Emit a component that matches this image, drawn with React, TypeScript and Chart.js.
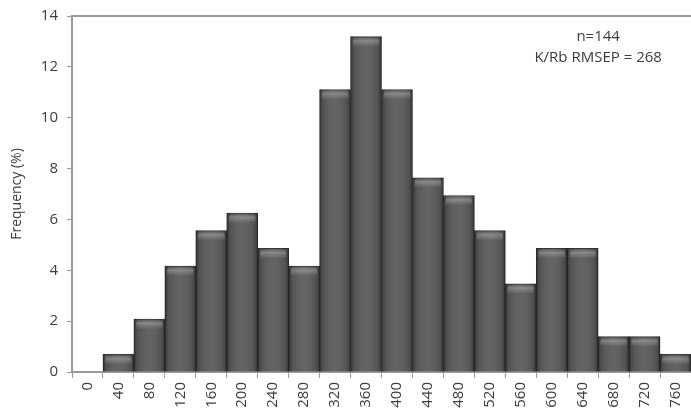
import React, { useEffect, useRef } from "react";
import { Chart, registerables } from "chart.js";

Chart.register(...registerables);

const categories = ["0", "40", "80", "120", "160", "200", "240", "280", "320", "360", "400", "440", "480", "520", "560", "600", "640", "680", "720", "760"];
const frequency = [0, 0.69, 2.08, 4.17, 5.56, 6.25, 4.86, 4.17, 11.11, 13.19, 11.11, 7.64, 6.94, 5.56, 3.47, 4.86, 4.86, 1.39, 1.39, 0.69];
const annotationLines = ["n=144", "K/Rb RMSEP = 268"];
const yMin = 0;
const yMax = 14;
const yStep = 2;

const FONT = "'Open Sans', 'Liberation Sans', sans-serif";
const TEXT = "#3c3c3c";
const AXIS = "#9a9a9a";

const shadePlugin = {
  id: "shade",
  afterDatasetsDraw(chart: any) {
    const ctx = chart.ctx;
    const meta = chart.getDatasetMeta(0);
    meta.data.forEach((bar: any, i: number) => {
      if (!frequency[i]) return;
      const { x, y, base, width } = bar.getProps(["x", "y", "base", "width"], true);
      const left = x - width / 2;
      const right = x + width / 2;
      ctx.save();
      const g = ctx.createLinearGradient(left, 0, right, 0);
      g.addColorStop(0, "rgba(0,0,0,0.4)");
      g.addColorStop(0.12, "rgba(0,0,0,0.1)");
      g.addColorStop(0.5, "rgba(255,255,255,0.05)");
      g.addColorStop(0.88, "rgba(0,0,0,0.1)");
      g.addColorStop(1, "rgba(0,0,0,0.4)");
      ctx.fillStyle = g;
      ctx.fillRect(left, y, width, base - y);
      const capH = Math.min(10, (base - y) * 0.6);
      const g2 = ctx.createLinearGradient(0, y + 1, 0, y + capH);
      g2.addColorStop(0, "rgba(255,255,255,0.0)");
      g2.addColorStop(0.35, "rgba(255,255,255,0.25)");
      g2.addColorStop(1, "rgba(255,255,255,0)");
      ctx.fillStyle = g2;
      ctx.beginPath();
      const inset = 4;
      ctx.moveTo(left + inset, y + 1);
      ctx.lineTo(right - inset, y + 1);
      ctx.quadraticCurveTo(right - 2, y + 1, right - 2, y + capH);
      ctx.lineTo(left + 2, y + capH);
      ctx.quadraticCurveTo(left + 2, y + 1, left + inset, y + 1);
      ctx.fill();
      ctx.restore();
    });
  },
  afterDraw(chart: any) {
    const ctx = chart.ctx;
    const { left, right, top } = chart.chartArea;
    ctx.save();
    ctx.strokeStyle = AXIS;
    ctx.lineWidth = 2;
    ctx.beginPath();
    ctx.moveTo(left, top);
    ctx.lineTo(right, top);
    ctx.stroke();
    ctx.fillStyle = TEXT;
    ctx.font = `15px ${FONT}`;
    ctx.textAlign = "center";
    ctx.textBaseline = "middle";
    const cx = chart.scales.x.getPixelForValue(16.5);
    annotationLines.forEach((t, k) => {
      ctx.fillText(t, cx, 37 + k * 21);
    });
    ctx.restore();
  },
};

export default function App() {
  const ref = useRef<HTMLCanvasElement>(null);
  useEffect(() => {
    if (!ref.current) return;
    const chart = new Chart(ref.current, {
      type: "bar",
      data: {
        labels: categories,
        datasets: [
          {
            data: frequency,
            backgroundColor: "#5c5c5c",
            borderColor: "#353535",
            borderWidth: 1,
            barPercentage: 1,
            categoryPercentage: 1,
          },
        ],
      },
      options: {
        animation: false,
        responsive: false,
        maintainAspectRatio: false,
        layout: { padding: { left: 8, top: 16, right: 0, bottom: 0 } },
        plugins: { legend: { display: false }, tooltip: { enabled: false } },
        scales: {
          x: {
            offset: true,
            grid: { display: true, drawOnChartArea: false, drawTicks: true, tickLength: 6, color: AXIS, offset: true },
            border: { color: AXIS, width: 2 },
            ticks: { minRotation: 90, maxRotation: 90, autoSkip: false, color: TEXT, font: { family: FONT, size: 15 }, padding: 4 },
            afterFit: (s: any) => { s.height = 41; s.paddingRight = 0; s.paddingLeft = 0; },
          },
          y: {
            min: yMin,
            max: yMax,
            grid: { display: true, drawOnChartArea: false, drawTicks: true, tickLength: 5, color: AXIS },
            border: { color: AXIS, width: 2 },
            ticks: { stepSize: yStep, color: TEXT, font: { family: FONT, size: 15 }, padding: 9 },
            title: { display: true, text: "Frequency (%)", color: TEXT, font: { family: FONT, size: 14 }, padding: 1 },
            afterFit: (s: any) => { s.width = 64; s.paddingTop = 0; s.paddingBottom = 0; },
          },
        },
      },
      plugins: [shadePlugin],
    });
    return () => chart.destroy();
  }, []);
  return (
    <div style={{ position: "fixed", left: 0, top: 0, width: 691, height: 413, background: "#fff" }}>
      <canvas ref={ref} width={691} height={413} style={{ width: 691, height: 413, display: "block" }} />
    </div>
  );
}
